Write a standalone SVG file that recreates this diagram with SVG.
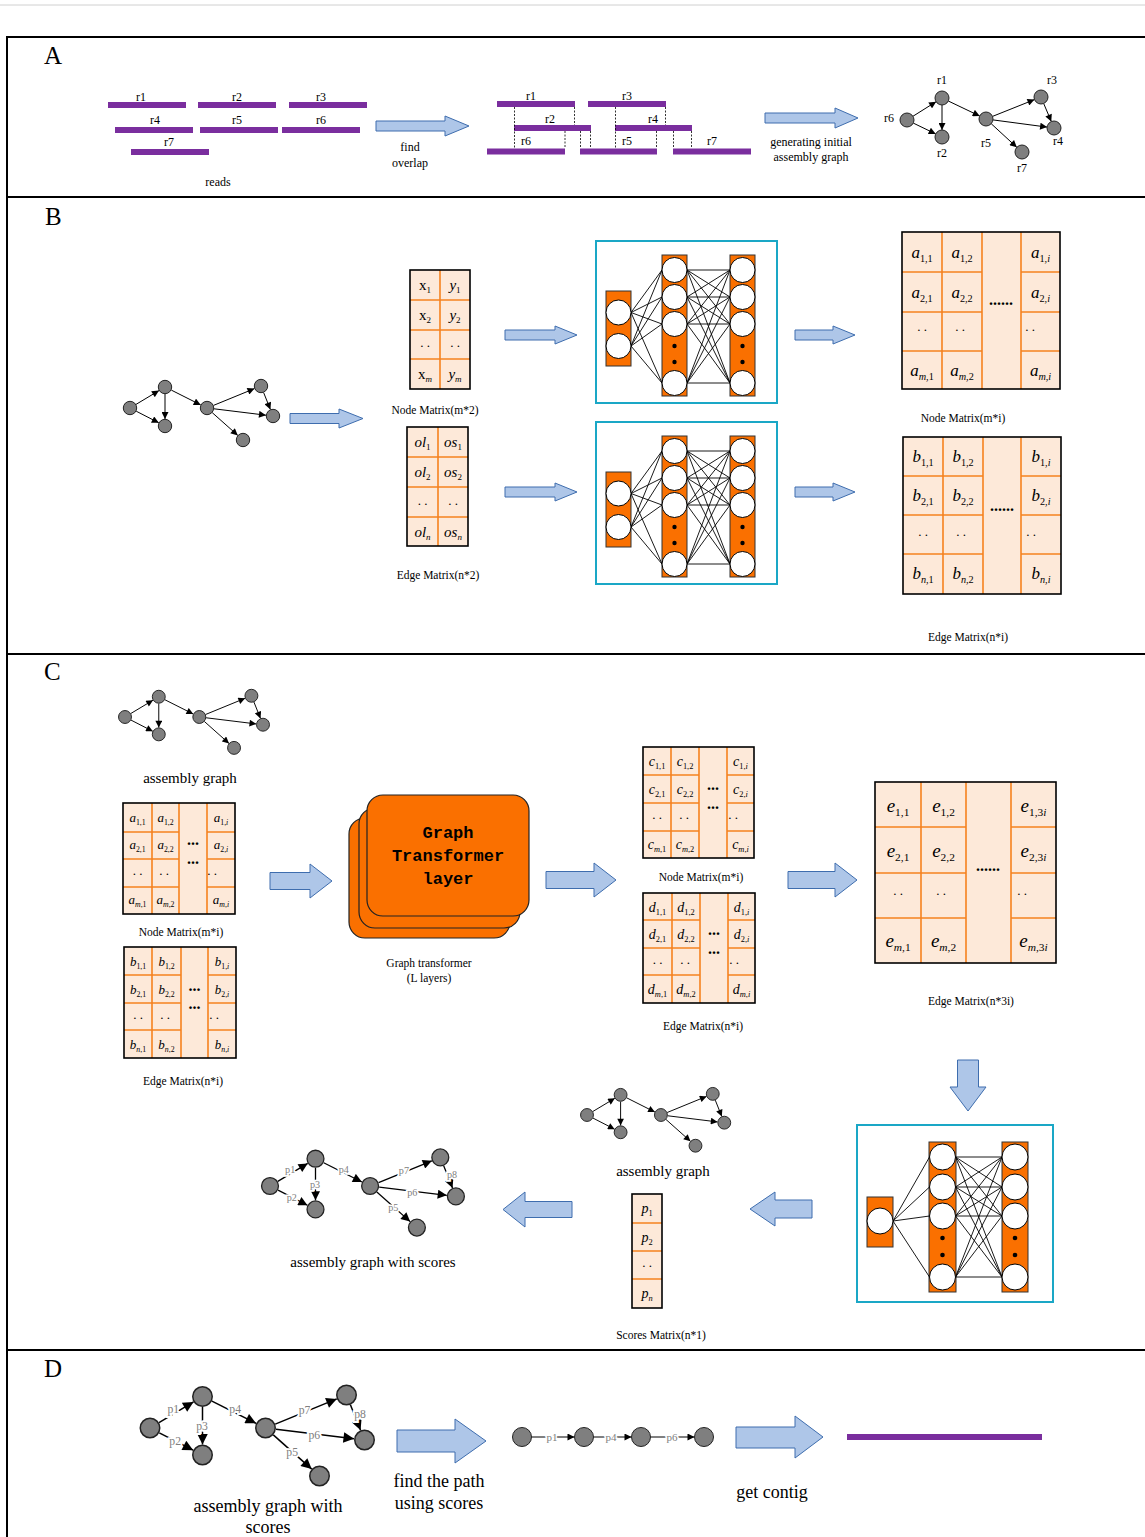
<svg xmlns="http://www.w3.org/2000/svg" width="1145" height="1537" viewBox="0 0 1145 1537">
<defs>
<style>
text{font-family:"Liberation Serif","Times New Roman",serif;fill:#000}
.lbl{font-size:11.5px;text-anchor:middle}
.la{font-size:12px;text-anchor:middle}
.big{font-size:15px;text-anchor:middle}
.huge{font-size:18px;text-anchor:middle}
.sec{font-size:25px}
.bar{fill:#7A2E9E}
.dot{stroke:#000;stroke-width:0.8;stroke-dasharray:2 1.5;fill:none}
.blk{fill:#AEC6E8;stroke:#3E6DAE;stroke-width:1}
.mf{fill:#FDE9D9}
.mb{fill:none;stroke:#000;stroke-width:1.6}
.ml{fill:none;stroke:#F5821F;stroke-width:1.6}
.mt{text-anchor:middle;font-style:italic}
.up{font-style:normal}
.s{font-size:0.6em;font-style:normal}
.si{font-style:italic}
.dt{text-anchor:middle;font-size:13px}
.dd{text-anchor:middle;font-weight:bold;font-size:16px}
.nd{fill:#7F7F7F;stroke:#222;stroke-width:1}
.ed{stroke:#000;stroke-width:1;fill:none;marker-end:url(#ah)}
.pl{font-size:7.8px;fill:#808080;text-anchor:middle;stroke:#fff;stroke-width:2.5;paint-order:stroke;dominant-baseline:central}
.pp{font-size:11px;fill:#808080;text-anchor:middle;stroke:#fff;stroke-width:3;paint-order:stroke;dominant-baseline:central}
.nnbox{fill:#fff;stroke:#1AA7C6;stroke-width:2}
.nnbar{fill:#FA7000;stroke:#333;stroke-width:1}
.nnc{fill:#fff;stroke:#000;stroke-width:1}
.nnd{fill:#000}
.nnl{stroke:#000;stroke-width:0.9;fill:none}
.card{fill:#FA7000;stroke:#222;stroke-width:1.2}
.gt{font-family:"Liberation Mono","Courier New",monospace;font-weight:bold;font-size:17px;text-anchor:middle}
</style>
<marker id="ah" viewBox="0 0 10 10" refX="10" refY="5" markerWidth="8" markerHeight="7" markerUnits="userSpaceOnUse" orient="auto"><path d="M0,0L10,5L0,10z" fill="#000"/></marker>
<!-- plain assembly graph, first node at the origin -->
<g id="asmGraph">
<path class="ed" d="M6,-3.6L29,-17.4"/>
<path class="ed" d="M6.2,3.2L28.8,14.8"/>
<path class="ed" d="M35,-14L35,11"/>
<path class="ed" d="M41.3,-17.9L70.7,-3.1"/>
<path class="ed" d="M83.5,-2.6L124.5,-19.4"/>
<path class="ed" d="M84,0.8L136,7.2"/>
<path class="ed" d="M82.2,4.6L107.8,27.4"/>
<path class="ed" d="M133.6,-15.5L140.4,1.5"/>
<circle class="nd" cx="0" cy="0" r="6.7"/>
<circle class="nd" cx="35" cy="-21" r="6.7"/>
<circle class="nd" cx="35" cy="18" r="6.7"/>
<circle class="nd" cx="77" cy="0" r="6.7"/>
<circle class="nd" cx="131" cy="-22" r="6.7"/>
<circle class="nd" cx="143" cy="8" r="6.7"/>
<circle class="nd" cx="113" cy="32" r="6.7"/>
</g>
<!-- assembly graph with edge scores -->
<g id="scoreGraph">
<path class="ed" d="M6,-3.6L29,-17.4"/>
<path class="ed" d="M6.2,3.2L28.8,14.8"/>
<path class="ed" d="M35,-14L35,11"/>
<path class="ed" d="M41.3,-17.9L70.7,-3.1"/>
<path class="ed" d="M83.5,-2.6L124.5,-19.4"/>
<path class="ed" d="M84,0.8L136,7.2"/>
<path class="ed" d="M82.2,4.6L107.8,27.4"/>
<path class="ed" d="M133.6,-15.5L140.4,1.5"/>
<text class="pl" x="15.5" y="-12.5">p1</text>
<text class="pl" x="16.8" y="9">p2</text>
<text class="pl" x="34.7" y="-1.3">p3</text>
<text class="pl" x="56.8" y="-12.5">p4</text>
<text class="pl" x="103" y="-12">p7</text>
<text class="pl" x="140" y="-8.8">p8</text>
<text class="pl" x="109.5" y="4.7">p6</text>
<text class="pl" x="94.8" y="16.5">p5</text>
<circle class="nd" cx="0" cy="0" r="6.5"/>
<circle class="nd" cx="35" cy="-21" r="6.5"/>
<circle class="nd" cx="35" cy="18" r="6.5"/>
<circle class="nd" cx="77" cy="0" r="6.5"/>
<circle class="nd" cx="131" cy="-22" r="6.5"/>
<circle class="nd" cx="143" cy="8" r="6.5"/>
<circle class="nd" cx="113" cy="32" r="6.5"/>
</g>
</defs>

<rect width="1145" height="1537" fill="#fff"/>
<line x1="0" y1="5" x2="1145" y2="5" stroke="#d0d0d0" stroke-width="1"/>

<!-- panel frame -->
<g id="frame" fill="none" stroke="#000" stroke-width="2">
<path d="M7,1537V37H1145"/>
<path d="M7,197H1145M7,654H1145M7,1350H1145"/>
</g>
<text class="sec" x="44" y="64">A</text>
<text class="sec" x="45" y="225">B</text>
<text class="sec" x="44" y="680">C</text>
<text class="sec" x="44" y="1377">D</text>

<!-- ===== A: reads ===== -->
<g id="reads">
<rect class="bar" x="108" y="102" width="78" height="6"/>
<rect class="bar" x="198" y="102" width="78" height="6"/>
<rect class="bar" x="289" y="102" width="78" height="6"/>
<rect class="bar" x="115" y="127" width="78" height="6"/>
<rect class="bar" x="200" y="127" width="78" height="6"/>
<rect class="bar" x="282" y="127" width="78" height="6"/>
<rect class="bar" x="131" y="149" width="78" height="6"/>
<text class="la" x="141" y="101">r1</text>
<text class="la" x="237" y="101">r2</text>
<text class="la" x="321" y="101">r3</text>
<text class="la" x="155" y="124">r4</text>
<text class="la" x="237" y="124">r5</text>
<text class="la" x="321" y="124">r6</text>
<text class="la" x="169" y="146">r7</text>
<text class="la" x="218" y="186">reads</text>
</g>

<g id="arrowA1">
<path class="blk" d="M376,121H445V116L469,126L445,136V131H376Z"/>
<text class="la" x="410" y="151">find</text>
<text class="la" x="410" y="167">overlap</text>
</g>

<!-- ===== A: overlaps ===== -->
<g id="overlaps">
<rect class="bar" x="497" y="101" width="78" height="6"/>
<rect class="bar" x="588" y="101" width="78" height="6"/>
<rect class="bar" x="514" y="125" width="77" height="6"/>
<rect class="bar" x="615" y="125" width="77" height="6"/>
<rect class="bar" x="487" y="148.5" width="78" height="6"/>
<rect class="bar" x="580" y="148.5" width="77" height="6"/>
<rect class="bar" x="673" y="148.5" width="78" height="6"/>
<path class="dot" d="M514.5,107V148.5M574.5,107V125M565,131V148.5M580.5,131V148.5M590.5,131V148.5M615.5,107V148.5M665.5,107V125M656.5,131V148.5M673.5,131V148.5M691.5,131V148.5"/>
<text class="la" x="531" y="100">r1</text>
<text class="la" x="627" y="100">r3</text>
<text class="la" x="550" y="123">r2</text>
<text class="la" x="653" y="123">r4</text>
<text class="la" x="526" y="145">r6</text>
<text class="la" x="627" y="145">r5</text>
<text class="la" x="712" y="145">r7</text>
</g>

<g id="arrowA2">
<path class="blk" d="M765,113H835V108L858,118L835,128V123H765Z"/>
<text class="la" x="811" y="146">generating initial</text>
<text class="la" x="811" y="161">assembly graph</text>
</g>

<!-- ===== A: initial assembly graph ===== -->
<g id="graphA">
<g id="graphA-edges">
<path class="ed" d="M912.9,116.3L936.1,101.7"/>
<path class="ed" d="M913.3,123.1L935.7,133.9"/>
<path class="ed" d="M942,105L942,130"/>
<path class="ed" d="M948.3,101L979.7,116"/>
<path class="ed" d="M992.5,116.4L1034.5,99.6"/>
<path class="ed" d="M992.9,119.9L1047.1,127.1"/>
<path class="ed" d="M991.2,123.7L1016.8,147.3"/>
<path class="ed" d="M1043.7,103.5L1051.3,121.5"/>
</g>
<g id="r6"><circle class="nd" cx="907" cy="120" r="7"/><text class="la" x="889" y="122">r6</text></g>
<g id="r1"><circle class="nd" cx="942" cy="98" r="7"/><text class="la" x="942" y="84">r1</text></g>
<g id="r2"><circle class="nd" cx="942" cy="137" r="7"/><text class="la" x="942" y="157">r2</text></g>
<g id="r5"><circle class="nd" cx="986" cy="119" r="7"/><text class="la" x="986" y="147">r5</text></g>
<g id="r3"><circle class="nd" cx="1041" cy="97" r="7"/><text class="la" x="1052" y="84">r3</text></g>
<g id="r4"><circle class="nd" cx="1054" cy="128" r="7"/><text class="la" x="1058" y="145">r4</text></g>
<g id="r7"><circle class="nd" cx="1022" cy="152" r="7"/><text class="la" x="1022" y="172">r7</text></g>
</g>

<!-- ===== B ===== -->
<use id="graphB" href="#asmGraph" transform="translate(130,408)"/>
<path id="arrowB1" class="blk" d="M290,413.5H339V409L363,418.5L339,428V423.5H290Z"/>

<g id="nodeMat2">
<rect class="mf" x="410" y="270" width="60" height="119"/>
<path class="ml" d="M440,270V389M410,300H470M410,330H470M410,359H470"/>
<rect class="mb" x="410" y="270" width="60" height="119"/>
<text class="mt up" font-size="15" x="425" y="290">x<tspan class="s" dy="3">1</tspan></text>
<text class="mt" font-size="15" x="455" y="290">y<tspan class="s" dy="3">1</tspan></text>
<text class="mt up" font-size="15" x="425" y="320">x<tspan class="s" dy="3">2</tspan></text>
<text class="mt" font-size="15" x="455" y="320">y<tspan class="s" dy="3">2</tspan></text>
<text class="dt" x="425" y="347">. .</text>
<text class="dt" x="455" y="347">. .</text>
<text class="mt up" font-size="15" x="425" y="379">x<tspan class="s" dy="3"><tspan class="si">m</tspan></tspan></text>
<text class="mt" font-size="15" x="455" y="379">y<tspan class="s" dy="3"><tspan class="si">m</tspan></tspan></text>
<text class="lbl" x="435" y="414">Node Matrix(m*2)</text>
</g>

<g id="edgeMat2">
<rect class="mf" x="407" y="427" width="61" height="119"/>
<path class="ml" d="M438,427V546M407,457H468M407,487H468M407,517H468"/>
<rect class="mb" x="407" y="427" width="61" height="119"/>
<text class="mt" font-size="15" x="422.5" y="447">ol<tspan class="s" dy="3">1</tspan></text>
<text class="mt" font-size="15" x="453" y="447">os<tspan class="s" dy="3">1</tspan></text>
<text class="mt" font-size="15" x="422.5" y="477">ol<tspan class="s" dy="3">2</tspan></text>
<text class="mt" font-size="15" x="453" y="477">os<tspan class="s" dy="3">2</tspan></text>
<text class="dt" x="422.5" y="505">. .</text>
<text class="dt" x="453" y="505">. .</text>
<text class="mt" font-size="15" x="422.5" y="537">ol<tspan class="s" dy="3"><tspan class="si">n</tspan></tspan></text>
<text class="mt" font-size="15" x="453" y="537">os<tspan class="s" dy="3"><tspan class="si">n</tspan></tspan></text>
<text class="lbl" x="438" y="579">Edge Matrix(n*2)</text>
</g>

<path id="arrowB2" class="blk" d="M505,330H555V326L577,335L555,344V340H505Z"/>
<path id="arrowB3" class="blk" d="M505,487H555V483L577,492L555,501V497H505Z"/>

<!-- two-layer network (node features) -->
<g id="nnNodeB">
<rect class="nnbox" x="596" y="241" width="181" height="162"/>
<rect class="nnbar" x="606" y="291" width="25" height="75"/>
<rect class="nnbar" x="662" y="255" width="25" height="141"/>
<rect class="nnbar" x="730" y="255" width="25" height="141"/>
<path class="nnl" d="M631,312.5L662,270M631,312.5L662,297M631,312.5L662,324M631,312.5L662,383M631,346L662,270M631,346L662,297M631,346L662,324M631,346L662,383"/>
<path class="nnl" d="M687,270L730,270M687,270L730,297M687,270L730,324M687,270L730,383M687,297L730,270M687,297L730,297M687,297L730,324M687,297L730,383M687,324L730,270M687,324L730,297M687,324L730,324M687,324L730,383M687,383L730,270M687,383L730,297M687,383L730,324M687,383L730,383"/>
<circle class="nnc" cx="618.5" cy="312.5" r="12.5"/>
<circle class="nnc" cx="618.5" cy="346" r="12.5"/>
<circle class="nnc" cx="674.5" cy="270" r="12.5"/>
<circle class="nnc" cx="674.5" cy="297" r="12.5"/>
<circle class="nnc" cx="674.5" cy="324" r="12.5"/>
<circle class="nnc" cx="674.5" cy="383" r="12.5"/>
<circle class="nnd" cx="674.5" cy="346" r="2.2"/>
<circle class="nnd" cx="674.5" cy="362" r="2.2"/>
<circle class="nnc" cx="742.5" cy="270" r="12.5"/>
<circle class="nnc" cx="742.5" cy="297" r="12.5"/>
<circle class="nnc" cx="742.5" cy="324" r="12.5"/>
<circle class="nnc" cx="742.5" cy="383" r="12.5"/>
<circle class="nnd" cx="742.5" cy="346" r="2.2"/>
<circle class="nnd" cx="742.5" cy="362" r="2.2"/>
</g>
<!-- same network for edge features -->
<use id="nnEdgeB" href="#nnNodeB" transform="translate(0,181)"/>

<path id="arrowB4" class="blk" d="M795,330H833V326L855,335L833,344V340H795Z"/>
<path id="arrowB5" class="blk" d="M795,487H833V483L855,492L833,501V497H795Z"/>

<g id="nodeMatAi">
<rect class="mf" x="902" y="232" width="158" height="157"/>
<path class="ml" d="M942,232V389M982,232V389M1021,232V389M902,272H982M902,312H982M902,351H982M1021,272H1060M1021,312H1060M1021,351H1060"/>
<rect class="mb" x="902" y="232" width="158" height="157"/>
<g font-size="17">
<text class="mt" x="922" y="258">a<tspan class="s" dy="4">1,1</tspan></text>
<text class="mt" x="962" y="258">a<tspan class="s" dy="4">1,2</tspan></text>
<text class="mt" x="1040.5" y="258">a<tspan class="s" dy="4">1,<tspan class="si">i</tspan></tspan></text>
<text class="mt" x="922" y="298">a<tspan class="s" dy="4">2,1</tspan></text>
<text class="mt" x="962" y="298">a<tspan class="s" dy="4">2,2</tspan></text>
<text class="mt" x="1040.5" y="298">a<tspan class="s" dy="4">2,<tspan class="si">i</tspan></tspan></text>
<text class="mt" x="922" y="376">a<tspan class="s" dy="4"><tspan class="si">m</tspan>,1</tspan></text>
<text class="mt" x="962" y="376">a<tspan class="s" dy="4"><tspan class="si">m</tspan>,2</tspan></text>
<text class="mt" x="1040.5" y="376">a<tspan class="s" dy="4"><tspan class="si">m</tspan>,<tspan class="si">i</tspan></tspan></text>
</g>
<text class="dt" x="922" y="331">. .</text>
<text class="dt" x="960" y="331">. .</text>
<text class="dt" x="1030" y="331">. .</text>
<text class="dd" font-size="18" x="1001" y="305">......</text>
<text class="lbl" x="963" y="422">Node Matrix(m*i)</text>
</g>

<g id="edgeMatBi">
<rect class="mf" x="903" y="437" width="158" height="157"/>
<path class="ml" d="M943,437V594M983,437V594M1021,437V594M903,476H983M903,515H983M903,554H983M1021,476H1061M1021,515H1061M1021,554H1061"/>
<rect class="mb" x="903" y="437" width="158" height="157"/>
<g font-size="17">
<text class="mt" x="923" y="462">b<tspan class="s" dy="4">1,1</tspan></text>
<text class="mt" x="963" y="462">b<tspan class="s" dy="4">1,2</tspan></text>
<text class="mt" x="1041" y="462">b<tspan class="s" dy="4">1,<tspan class="si">i</tspan></tspan></text>
<text class="mt" x="923" y="501">b<tspan class="s" dy="4">2,1</tspan></text>
<text class="mt" x="963" y="501">b<tspan class="s" dy="4">2,2</tspan></text>
<text class="mt" x="1041" y="501">b<tspan class="s" dy="4">2,<tspan class="si">i</tspan></tspan></text>
<text class="mt" x="923" y="579">b<tspan class="s" dy="4"><tspan class="si">n</tspan>,1</tspan></text>
<text class="mt" x="963" y="579">b<tspan class="s" dy="4"><tspan class="si">n</tspan>,2</tspan></text>
<text class="mt" x="1041" y="579">b<tspan class="s" dy="4"><tspan class="si">n</tspan>,<tspan class="si">i</tspan></tspan></text>
</g>
<text class="dt" x="923" y="536">. .</text>
<text class="dt" x="961" y="536">. .</text>
<text class="dt" x="1031" y="536">. .</text>
<text class="dd" font-size="18" x="1002" y="511">......</text>
<text class="lbl" x="968" y="641">Edge Matrix(n*i)</text>
</g>

<!-- ===== C ===== -->
<use id="graphC1" href="#asmGraph" transform="translate(125,717) scale(0.965)"/>
<text class="big" x="190" y="783">assembly graph</text>

<g id="nodeMatC">
<rect class="mf" x="123" y="803" width="112" height="111"/>
<path class="ml" d="M152,803V914M179,803V914M207,803V914M123,832H179M123,859H179M123,887H179M207,832H235M207,859H235M207,887H235"/>
<rect class="mb" x="123" y="803" width="112" height="111"/>
<g font-size="13">
<text class="mt" x="137.5" y="822">a<tspan class="s" dy="3">1,1</tspan></text>
<text class="mt" x="165.5" y="822">a<tspan class="s" dy="3">1,2</tspan></text>
<text class="mt" x="221" y="822">a<tspan class="s" dy="3">1,<tspan class="si">i</tspan></tspan></text>
<text class="mt" x="137.5" y="849">a<tspan class="s" dy="3">2,1</tspan></text>
<text class="mt" x="165.5" y="849">a<tspan class="s" dy="3">2,2</tspan></text>
<text class="mt" x="221" y="849">a<tspan class="s" dy="3">2,<tspan class="si">i</tspan></tspan></text>
<text class="mt" x="137.5" y="904">a<tspan class="s" dy="3"><tspan class="si">m</tspan>,1</tspan></text>
<text class="mt" x="165.5" y="904">a<tspan class="s" dy="3"><tspan class="si">m</tspan>,2</tspan></text>
<text class="mt" x="221" y="904">a<tspan class="s" dy="3"><tspan class="si">m</tspan>,<tspan class="si">i</tspan></tspan></text>
</g>
<text class="dt" font-size="11" x="137.5" y="875">. .</text>
<text class="dt" font-size="11" x="164" y="875">. .</text>
<text class="dt" font-size="11" x="212" y="875">. .</text>
<text class="dd" x="193" y="845">...</text>
<text class="dd" x="193" y="864">...</text>
<text class="lbl" x="181" y="936">Node Matrix(m*i)</text>
</g>

<g id="edgeMatC">
<rect class="mf" x="124" y="947" width="112" height="111"/>
<path class="ml" d="M152,947V1058M181,947V1058M208,947V1058M124,975H181M124,1003H181M124,1030H181M208,975H236M208,1003H236M208,1030H236"/>
<rect class="mb" x="124" y="947" width="112" height="111"/>
<g font-size="13">
<text class="mt" x="138" y="966">b<tspan class="s" dy="3">1,1</tspan></text>
<text class="mt" x="166.5" y="966">b<tspan class="s" dy="3">1,2</tspan></text>
<text class="mt" x="222" y="966">b<tspan class="s" dy="3">1,<tspan class="si">i</tspan></tspan></text>
<text class="mt" x="138" y="994">b<tspan class="s" dy="3">2,1</tspan></text>
<text class="mt" x="166.5" y="994">b<tspan class="s" dy="3">2,2</tspan></text>
<text class="mt" x="222" y="994">b<tspan class="s" dy="3">2,<tspan class="si">i</tspan></tspan></text>
<text class="mt" x="138" y="1049">b<tspan class="s" dy="3"><tspan class="si">n</tspan>,1</tspan></text>
<text class="mt" x="166.5" y="1049">b<tspan class="s" dy="3"><tspan class="si">n</tspan>,2</tspan></text>
<text class="mt" x="222" y="1049">b<tspan class="s" dy="3"><tspan class="si">n</tspan>,<tspan class="si">i</tspan></tspan></text>
</g>
<text class="dt" font-size="11" x="138" y="1019">. .</text>
<text class="dt" font-size="11" x="165" y="1019">. .</text>
<text class="dt" font-size="11" x="214" y="1019">. .</text>
<text class="dd" x="194.5" y="991">...</text>
<text class="dd" x="194.5" y="1009">...</text>
<text class="lbl" x="183" y="1085">Edge Matrix(n*i)</text>
</g>

<path id="arrowC1" class="blk" d="M270,872.5H310V864L332,881L310,898V889.5H270Z"/>

<g id="transformer">
<rect class="card" x="349" y="818" width="161" height="120" rx="16"/>
<rect class="card" x="359" y="808" width="161" height="120" rx="16"/>
<rect class="card" x="367" y="795" width="162" height="121" rx="16"/>
<text class="gt" x="448" y="838">Graph</text>
<text class="gt" x="448" y="861">Transformer</text>
<text class="gt" x="448" y="884">layer</text>
<text class="lbl" x="429" y="967">Graph transformer</text>
<text class="lbl" x="429" y="982">(L layers)</text>
</g>

<path id="arrowC2" class="blk" d="M546,871.5H594V863L616,880L594,897V888.5H546Z"/>

<g id="nodeMatCc">
<rect class="mf" x="643" y="747" width="111" height="111"/>
<path class="ml" d="M671,747V858M699,747V858M727,747V858M643,775H699M643,803H699M643,831H699M727,775H754M727,803H754M727,831H754"/>
<rect class="mb" x="643" y="747" width="111" height="111"/>
<g font-size="14">
<text class="mt" x="657" y="766">c<tspan class="s" dy="3">1,1</tspan></text>
<text class="mt" x="685" y="766">c<tspan class="s" dy="3">1,2</tspan></text>
<text class="mt" x="740.5" y="766">c<tspan class="s" dy="3">1,<tspan class="si">i</tspan></tspan></text>
<text class="mt" x="657" y="794">c<tspan class="s" dy="3">2,1</tspan></text>
<text class="mt" x="685" y="794">c<tspan class="s" dy="3">2,2</tspan></text>
<text class="mt" x="740.5" y="794">c<tspan class="s" dy="3">2,<tspan class="si">i</tspan></tspan></text>
<text class="mt" x="657" y="849">c<tspan class="s" dy="3"><tspan class="si">m</tspan>,1</tspan></text>
<text class="mt" x="685" y="849">c<tspan class="s" dy="3"><tspan class="si">m</tspan>,2</tspan></text>
<text class="mt" x="740.5" y="849">c<tspan class="s" dy="3"><tspan class="si">m</tspan>,<tspan class="si">i</tspan></tspan></text>
</g>
<text class="dt" font-size="11" x="657" y="819">. .</text>
<text class="dt" font-size="11" x="684" y="819">. .</text>
<text class="dt" font-size="11" x="733" y="819">. .</text>
<text class="dd" x="713" y="790">...</text>
<text class="dd" x="713" y="809">...</text>
<text class="lbl" x="701" y="881">Node Matrix(m*i)</text>
</g>

<g id="edgeMatCd">
<rect class="mf" x="643" y="893" width="112" height="110"/>
<path class="ml" d="M672,893V1003M700,893V1003M728,893V1003M643,920H700M643,948H700M643,975H700M728,920H755M728,948H755M728,975H755"/>
<rect class="mb" x="643" y="893" width="112" height="110"/>
<g font-size="14">
<text class="mt" x="657.5" y="912">d<tspan class="s" dy="3">1,1</tspan></text>
<text class="mt" x="686" y="912">d<tspan class="s" dy="3">1,2</tspan></text>
<text class="mt" x="741.5" y="912">d<tspan class="s" dy="3">1,<tspan class="si">i</tspan></tspan></text>
<text class="mt" x="657.5" y="939">d<tspan class="s" dy="3">2,1</tspan></text>
<text class="mt" x="686" y="939">d<tspan class="s" dy="3">2,2</tspan></text>
<text class="mt" x="741.5" y="939">d<tspan class="s" dy="3">2,<tspan class="si">i</tspan></tspan></text>
<text class="mt" x="657.5" y="994">d<tspan class="s" dy="3"><tspan class="si">m</tspan>,1</tspan></text>
<text class="mt" x="686" y="994">d<tspan class="s" dy="3"><tspan class="si">m</tspan>,2</tspan></text>
<text class="mt" x="741.5" y="994">d<tspan class="s" dy="3"><tspan class="si">m</tspan>,<tspan class="si">i</tspan></tspan></text>
</g>
<text class="dt" font-size="11" x="657.5" y="964">. .</text>
<text class="dt" font-size="11" x="685" y="964">. .</text>
<text class="dt" font-size="11" x="734" y="964">. .</text>
<text class="dd" x="714" y="935">...</text>
<text class="dd" x="714" y="954">...</text>
<text class="lbl" x="703" y="1030">Edge Matrix(n*i)</text>
</g>

<path id="arrowC3" class="blk" d="M788,871.5H835V863L857,880L835,897V888.5H788Z"/>

<g id="edgeMatCe">
<rect class="mf" x="875" y="782" width="181" height="181"/>
<path class="ml" d="M921,782V963M966,782V963M1011,782V963M875,827H966M875,873H966M875,918H966M1011,827H1056M1011,873H1056M1011,918H1056"/>
<rect class="mb" x="875" y="782" width="181" height="181"/>
<g font-size="19">
<text class="mt" x="898" y="812">e<tspan class="s" dy="4">1,1</tspan></text>
<text class="mt" x="943.5" y="812">e<tspan class="s" dy="4">1,2</tspan></text>
<text class="mt" x="1033.5" y="812">e<tspan class="s" dy="4">1,3<tspan class="si">i</tspan></tspan></text>
<text class="mt" x="898" y="857">e<tspan class="s" dy="4">2,1</tspan></text>
<text class="mt" x="943.5" y="857">e<tspan class="s" dy="4">2,2</tspan></text>
<text class="mt" x="1033.5" y="857">e<tspan class="s" dy="4">2,3<tspan class="si">i</tspan></tspan></text>
<text class="mt" x="898" y="947">e<tspan class="s" dy="4"><tspan class="si">m</tspan>,1</tspan></text>
<text class="mt" x="943.5" y="947">e<tspan class="s" dy="4"><tspan class="si">m</tspan>,2</tspan></text>
<text class="mt" x="1033.5" y="947">e<tspan class="s" dy="4"><tspan class="si">m</tspan>,3<tspan class="si">i</tspan></tspan></text>
</g>
<text class="dt" x="898" y="895">. .</text>
<text class="dt" x="941" y="895">. .</text>
<text class="dt" x="1022" y="895">. .</text>
<text class="dd" font-size="18" x="988" y="871">......</text>
<text class="lbl" x="971" y="1005">Edge Matrix(n*3i)</text>
</g>

<path id="arrowC4" class="blk" d="M957.5,1060H978.5V1087H986L968,1111L950,1087H957.5Z"/>

<!-- scoring network -->
<g id="nnScore">
<rect class="nnbox" x="857" y="1125" width="196" height="177"/>
<rect class="nnbar" x="867" y="1197" width="26" height="50"/>
<rect class="nnbar" x="929" y="1142" width="27" height="150"/>
<rect class="nnbar" x="1002" y="1142" width="26" height="150"/>
<path class="nnl" d="M893,1221L929.5,1157M893,1221L929.5,1187M893,1221L929.5,1216M893,1221L929.5,1277"/>
<path class="nnl" d="M955.5,1157L1002,1157M955.5,1157L1002,1187M955.5,1157L1002,1216M955.5,1157L1002,1277M955.5,1187L1002,1157M955.5,1187L1002,1187M955.5,1187L1002,1216M955.5,1187L1002,1277M955.5,1216L1002,1157M955.5,1216L1002,1187M955.5,1216L1002,1216M955.5,1216L1002,1277M955.5,1277L1002,1157M955.5,1277L1002,1187M955.5,1277L1002,1216M955.5,1277L1002,1277"/>
<circle class="nnc" cx="880" cy="1221" r="13"/>
<circle class="nnc" cx="942.5" cy="1157" r="13"/>
<circle class="nnc" cx="942.5" cy="1187" r="13"/>
<circle class="nnc" cx="942.5" cy="1216" r="13"/>
<circle class="nnc" cx="942.5" cy="1277" r="13"/>
<circle class="nnd" cx="942.5" cy="1238" r="2.3"/>
<circle class="nnd" cx="942.5" cy="1255" r="2.3"/>
<circle class="nnc" cx="1015" cy="1157" r="13"/>
<circle class="nnc" cx="1015" cy="1187" r="13"/>
<circle class="nnc" cx="1015" cy="1216" r="13"/>
<circle class="nnc" cx="1015" cy="1277" r="13"/>
<circle class="nnd" cx="1015" cy="1238" r="2.3"/>
<circle class="nnd" cx="1015" cy="1255" r="2.3"/>
</g>

<path id="arrowC5" class="blk" d="M812,1200H775V1192L750,1209L775,1226V1218H812Z"/>

<use id="graphC2" href="#asmGraph" transform="translate(587,1115) scale(0.96)"/>
<text class="big" x="663" y="1176">assembly graph</text>

<g id="scoreMat">
<rect class="mf" x="632" y="1194" width="30" height="114"/>
<path class="ml" d="M632,1223H662M632,1251H662M632,1279H662"/>
<rect class="mb" x="632" y="1194" width="30" height="114"/>
<g font-size="14">
<text class="mt" x="647" y="1213">p<tspan class="s" dy="3">1</tspan></text>
<text class="mt" x="647" y="1241.5">p<tspan class="s" dy="3">2</tspan></text>
<text class="mt" x="647" y="1298">p<tspan class="s" dy="3"><tspan class="si">n</tspan></tspan></text>
</g>
<text class="dt" font-size="11" x="647" y="1267">. .</text>
<text class="lbl" x="661" y="1339">Scores Matrix(n*1)</text>
</g>

<path id="arrowC6" class="blk" d="M572,1201.5H525V1192L503,1209.5L525,1227V1217.5H572Z"/>

<use id="graphC3" href="#scoreGraph" transform="translate(270,1186) scale(1.3)"/>
<text class="big" x="373" y="1267">assembly graph with scores</text>

<!-- ===== D ===== -->
<use id="graphD" href="#scoreGraph" transform="translate(150,1428) scale(1.5)"/>
<text class="huge" x="268" y="1512">assembly graph with</text>
<text class="huge" x="268" y="1533">scores</text>

<g id="arrowD1">
<path class="blk" d="M397,1430H455V1419L486,1441L455,1463V1452H397Z"/>
<text class="huge" x="439" y="1487">find the path</text>
<text class="huge" x="439" y="1509">using scores</text>
</g>

<g id="pathD">
<g id="pathD-edges">
<path class="ed" d="M531.5,1437H574.5"/>
<path class="ed" d="M593.5,1437H631.5"/>
<path class="ed" d="M650.5,1437H694.5"/>
<text class="pp" x="552" y="1437">p1</text>
<text class="pp" x="611" y="1437">p4</text>
<text class="pp" x="672" y="1437">p6</text>
</g>
<circle class="nd" cx="522" cy="1437" r="9.5"/>
<circle class="nd" cx="584" cy="1437" r="9.5"/>
<circle class="nd" cx="641" cy="1437" r="9.5"/>
<circle class="nd" cx="704" cy="1437" r="9.5"/>
</g>

<g id="arrowD2">
<path class="blk" d="M736,1427H795V1416L823,1437L795,1458V1448H736Z"/>
<text class="huge" x="772" y="1498">get contig</text>
</g>

<rect id="contig" class="bar" x="847" y="1434" width="195" height="6"/>
</svg>
